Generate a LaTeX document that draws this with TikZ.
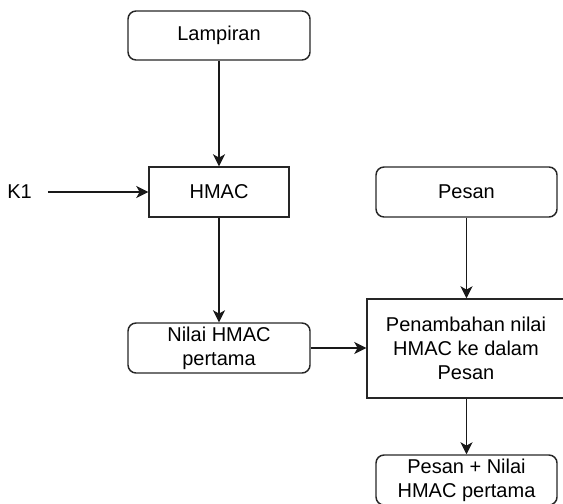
\documentclass[tikz,border=0pt]{standalone}
\usepackage{fontspec}
\setmainfont{Liberation Sans}
\usetikzlibrary{arrows.meta}
\begin{document}
\begin{tikzpicture}[x=0.75pt,y=-0.75pt,
  txt/.style={font=\fontsize{15}{18}\selectfont},
  box/.style={txt,draw=black!85,line width=1.1pt,minimum width=#1*0.75pt,inner sep=0pt,align=center},
  rbox/.style={box=#1,rounded corners=6pt},
  arr/.style={-{Stealth[length=9pt,width=9pt,inset=2.5pt]},line width=1.1pt,draw=black!90}]
\useasboundingbox (0,0) rectangle (563,503);
\clip (0,0) rectangle (563,503);
\node[rbox=182,minimum height=49*0.75pt] (lamp) at (219,35.5) {Lampiran};
\node[box=140,minimum height=50*0.75pt] (hmac) at (219,192) {HMAC};
\node[txt,inner xsep=16*0.75pt,inner ysep=0pt] (k1) at (19.5,192) {K1};
\node[rbox=182,minimum height=50*0.75pt] (nilai) at (219,348) {Nilai HMAC\\pertama};
\node[rbox=181,minimum height=50*0.75pt] (pesan) at (466.5,192) {Pesan};
\node[box=198,minimum height=99*0.75pt] (pen) at (466,348.5) {Penambahan nilai\\HMAC ke dalam\\Pesan};
\node[rbox=181,minimum height=50*0.75pt] (out) at (466.5,480) {Pesan + Nilai\\HMAC pertama};
\draw[arr] (lamp) -- (hmac);
\draw[arr] (k1) -- (hmac);
\draw[arr] (hmac) -- (nilai);
\draw[arr] (pesan.south) -- (pesan.south |- pen.north);
\draw[arr] (nilai) -- (nilai -| pen.west);
\draw[arr] (pen.south -| out.north) -- (out.north);
\end{tikzpicture}
\end{document}
